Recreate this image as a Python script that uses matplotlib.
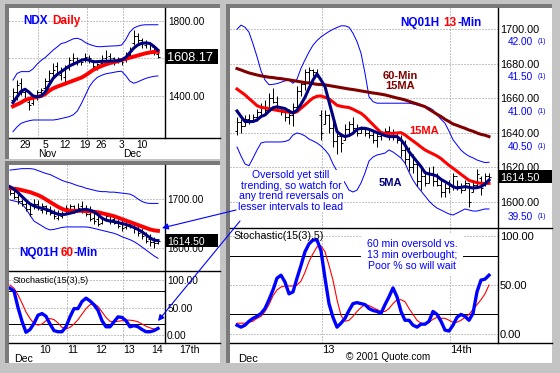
import matplotlib
matplotlib.use("Agg")
import matplotlib.pyplot as plt
import numpy as np
from matplotlib.lines import Line2D
from matplotlib.patches import Rectangle, FancyArrowPatch
from matplotlib.ticker import FormatStrFormatter
from matplotlib.transforms import blended_transform_factory

plt.rcParams['font.family'] = ['Liberation Sans', 'DejaVu Sans']

# ---------------- NDX daily, Oct 24 .. Dec 14 ----------------
daily_open = [1380, 1420, 1470, 1420, 1370, 1360, 1395, 1420, 1440, 1480, 1520, 1560, 1510,
              1500, 1550, 1590, 1600, 1595, 1590, 1610, 1585, 1550, 1575, 1600, 1615, 1600,
              1585, 1595, 1590, 1620, 1680, 1720, 1700, 1670, 1690, 1660, 1625]
daily_high = [1441, 1485, 1494, 1441, 1379, 1405, 1432, 1441, 1494, 1539, 1574, 1583, 1556,
              1565, 1610, 1628, 1610, 1601, 1628, 1619, 1592, 1574, 1619, 1645, 1628, 1610,
              1610, 1601, 1636, 1663, 1752, 1734, 1708, 1699, 1690, 1663, 1636]
daily_low = [1361, 1379, 1405, 1379, 1325, 1352, 1379, 1396, 1432, 1468, 1494, 1512, 1485,
             1468, 1539, 1565, 1565, 1565, 1583, 1574, 1539, 1539, 1565, 1583, 1574, 1565,
             1574, 1565, 1583, 1610, 1672, 1680, 1654, 1654, 1645, 1619, 1601]
daily_close = [1420, 1460, 1420, 1390, 1350, 1390, 1420, 1430, 1480, 1520, 1540, 1520, 1540,
               1550, 1590, 1600, 1590, 1580, 1610, 1600, 1560, 1570, 1600, 1610, 1600, 1590,
               1600, 1580, 1620, 1650, 1720, 1700, 1680, 1690, 1670, 1640, 1608.17]
daily_ma5 = [1365, 1395, 1425, 1436, 1420, 1400, 1396, 1400, 1420, 1460, 1495, 1515, 1530,
             1545, 1560, 1570, 1580, 1590, 1596, 1590, 1583, 1583, 1585, 1585, 1586, 1587,
             1588, 1592, 1605, 1630, 1655, 1672, 1681, 1683, 1680, 1665, 1645]
daily_ma20 = [1345, 1355, 1365, 1378, 1385, 1390, 1395, 1400, 1410, 1428, 1441, 1450, 1458,
              1466, 1474, 1482, 1490, 1498, 1510, 1525, 1540, 1550, 1560, 1568, 1575, 1580,
              1585, 1592, 1598, 1604, 1610, 1616, 1622, 1628, 1632, 1635, 1636]
daily_bb_up = [1485, 1520, 1530, 1530, 1530, 1545, 1570, 1590, 1605, 1625, 1645, 1662, 1680,
               1685, 1695, 1705, 1708, 1700, 1685, 1675, 1668, 1663, 1663, 1665, 1666, 1667,
               1668, 1672, 1700, 1740, 1762, 1772, 1778, 1780, 1780, 1780, 1780]
daily_bb_low = [1210, 1235, 1254, 1262, 1268, 1272, 1272, 1272, 1272, 1272, 1272, 1275, 1280,
                1285, 1290, 1300, 1320, 1360, 1405, 1450, 1480, 1500, 1510, 1518, 1522, 1526,
                1530, 1532, 1510, 1480, 1468, 1475, 1485, 1494, 1500, 1505, 1507]
daily_tick_pos = [3, 8, 13, 18, 22, 27, 32]
daily_tick_labels = ['29', '5', '12', '19', '26', '3', '10']
daily_month_pos = [8.6, 29.7]
daily_month_labels = ['Nov', 'Dec']
daily_grid_x = [6.3, 18.3, 27.4]
daily_yticks = [1400, 1800]
daily_grid_y = [1400, 1600, 1800]

# ---------------- NQ01H 60-min ----------------
hour_open = [1720, 1712, 1705, 1695, 1690, 1680, 1685, 1690, 1678, 1685, 1675, 1672, 1662,
             1666, 1672, 1680, 1685, 1680, 1685, 1680, 1670, 1662, 1660, 1652, 1658, 1665,
             1660, 1655, 1648, 1642, 1650, 1645, 1640, 1632, 1628, 1618, 1612, 1610]
hour_high = [1725, 1718, 1710, 1700, 1695, 1690, 1700, 1698, 1692, 1688, 1685, 1680, 1678,
             1676, 1688, 1690, 1688, 1692, 1695, 1688, 1685, 1672, 1668, 1664, 1672, 1668,
             1665, 1660, 1658, 1655, 1656, 1650, 1645, 1640, 1632, 1628, 1622, 1618]
hour_low = [1708, 1700, 1690, 1685, 1675, 1665, 1680, 1678, 1672, 1670, 1668, 1660, 1658,
            1662, 1670, 1675, 1672, 1676, 1672, 1665, 1655, 1650, 1645, 1648, 1655, 1650,
            1648, 1640, 1635, 1638, 1640, 1630, 1625, 1618, 1610, 1605, 1600, 1608]
hour_close = [1712, 1705, 1695, 1690, 1680, 1670, 1690, 1684, 1686, 1675, 1672, 1665, 1668,
              1670, 1682, 1685, 1680, 1682, 1678, 1670, 1660, 1655, 1650, 1660, 1665, 1658,
              1652, 1645, 1640, 1650, 1645, 1638, 1630, 1625, 1615, 1612, 1610, 1614.50]
hour_ma5 = [1725, 1720, 1713, 1705, 1697, 1690, 1686, 1683, 1681, 1679, 1676, 1672, 1669,
            1668, 1669, 1671, 1673, 1676, 1678, 1679, 1677, 1674, 1668, 1661, 1657, 1655,
            1654, 1652, 1650, 1648, 1645, 1642, 1638, 1633, 1627, 1621, 1616, 1615]
hour_ma15 = [1722, 1721, 1720, 1718, 1716, 1714, 1711, 1708, 1704, 1699, 1694, 1689, 1684,
             1680, 1677, 1676, 1676, 1676, 1676, 1675, 1675, 1674, 1673, 1671, 1669, 1667,
             1665, 1662, 1659, 1656, 1653, 1650, 1647, 1644, 1641, 1638, 1636, 1635]
hour_bb_up = [1759, 1760, 1761, 1762, 1762, 1762, 1761, 1758, 1755, 1752, 1750, 1746, 1742,
              1738, 1735, 1733, 1730, 1727, 1725, 1722, 1720, 1718, 1716, 1715, 1715, 1714,
              1714, 1713, 1712, 1711, 1710, 1706, 1700, 1695, 1692, 1691, 1691, 1691]
hour_bb_low = [1698, 1696, 1694, 1690, 1680, 1667, 1655, 1650, 1645, 1640, 1637, 1638, 1640,
               1642, 1643, 1643, 1643, 1643, 1643, 1643, 1642, 1640, 1638, 1636, 1634, 1632,
               1630, 1627, 1623, 1620, 1617, 1613, 1608, 1602, 1596, 1590, 1584, 1579]
hour_k = [85, 80, 50, 25, 5, 10, 21, 36, 39, 34, 20, 8, 6, 6, 15, 33, 48, 48, 61, 67, 62, 55,
          45, 26, 15, 15, 24, 33, 32, 26, 15, 17, 15, 10, 6, 6, 8, 12]
hour_d = [91, 85, 73, 58, 42, 30, 21, 18, 20, 26, 30, 28, 22, 14, 11, 14, 20, 28, 38, 48, 55,
          57, 52, 42, 32, 25, 24, 25, 26, 27, 27, 26, 24, 20, 16, 13, 11, 10]
hour_day_pos = [7.25, 14.25, 21.25, 28.25, 35.25, 42.25]
hour_day_labels = ['10', '11', '12', '13', '14', '17th']
hour_grid_x = [14.25, 28.25]
hour_yticks = [1600, 1700]

# ---------------- NQ01H 13-min ----------------
m13_open = [1641, 1646, 1644, 1648, 1647, 1649, 1652, 1655, 1653, 1660, 1658, 1655, 1652,
            1649, 1650, 1655, 1664, 1668, 1675, 1676, 1675, 1650, 1645, 1650, 1643, 1635,
            1638, 1636, 1642, 1645, 1643, 1640, 1642, 1640, 1639, 1636, 1638, 1640, 1641,
            1638, 1640, 1636, 1630, 1625, 1620, 1622, 1612, 1615, 1611, 1617, 1612, 1610,
            1606, 1608, 1610, 1615, 1609, 1607, 1611, 1606, 1610, 1614, 1610, 1615]
m13_high = [1649, 1648, 1650, 1651, 1651, 1654, 1657, 1659, 1663, 1666, 1661, 1655, 1653,
            1654, 1657, 1667, 1670, 1677, 1678, 1677, 1677, 1653, 1653, 1651, 1647, 1642,
            1640, 1645, 1647, 1649, 1645, 1644, 1643, 1642, 1641, 1640, 1641, 1643, 1644,
            1642, 1640, 1639, 1636, 1632, 1628, 1624, 1620, 1618, 1620, 1621, 1617, 1613,
            1611, 1613, 1617, 1613, 1611, 1613, 1611, 1613, 1619, 1615, 1617, 1617]
m13_low = [1639, 1640, 1644, 1645, 1646, 1647, 1650, 1651, 1653, 1657, 1653, 1650, 1647,
           1645, 1644, 1655, 1661, 1665, 1669, 1673, 1672, 1636, 1645, 1640, 1632, 1628,
           1629, 1636, 1638, 1641, 1638, 1640, 1638, 1637, 1634, 1632, 1636, 1638, 1636,
           1636, 1634, 1626, 1622, 1618, 1617, 1609, 1607, 1609, 1611, 1609, 1609, 1603,
           1603, 1605, 1607, 1607, 1605, 1607, 1597, 1606, 1609, 1604, 1609, 1612]
m13_close = [1646, 1644, 1648, 1647, 1649, 1652, 1655, 1653, 1660, 1658, 1655, 1652, 1649,
             1650, 1655, 1664, 1668, 1675, 1676, 1675, 1673, 1640, 1650, 1643, 1635, 1638,
             1634, 1642, 1645, 1643, 1640, 1642, 1640, 1639, 1636, 1638, 1640, 1641, 1638,
             1640, 1636, 1630, 1625, 1620, 1622, 1612, 1615, 1611, 1617, 1612, 1610, 1606,
             1608, 1610, 1615, 1609, 1607, 1611, 1600, 1610, 1616, 1608, 1615, 1614.50]
m13_ma5 = [1652.6, 1649.4, 1646.5, 1646.5, 1646.5, 1647.4, 1649.4, 1650.3, 1652.5, 1654.5,
           1655.0, 1654.5, 1654.0, 1652.5, 1651.5, 1653.0, 1656.5, 1660.5, 1665.7, 1670.5,
           1674.0, 1670.5, 1666.7, 1658.0, 1649.4, 1640.7, 1638.8, 1637.8, 1638.4, 1639.7,
           1642.0, 1642.6, 1642.6, 1642.0, 1641.1, 1640.1, 1639.3, 1638.4, 1637.8, 1637.8,
           1637.8, 1635.9, 1633.0, 1629.1, 1626.2, 1623.3, 1620.5, 1617.0, 1616.2, 1615.8,
           1615.0, 1613.1, 1611.8, 1610.4, 1608.9, 1608.1, 1608.5, 1608.9, 1608.5, 1608.1,
           1608.3, 1608.9, 1610.4, 1612.7]
m13_ma15 = [1665.3, 1663.6, 1661.9, 1659.8, 1657.8, 1655.7, 1654.7, 1654.4, 1654.0, 1653.4,
            1653.0, 1652.6, 1652.2, 1651.9, 1651.5, 1652.2, 1654.2, 1656.1, 1658.2, 1660.1,
            1661.1, 1661.3, 1660.5, 1659.6, 1657.8, 1655.9, 1655.3, 1654.9, 1654.6, 1653.6,
            1652.4, 1651.3, 1649.4, 1647.0, 1644.7, 1642.4, 1640.1, 1639.7, 1639.7, 1639.7,
            1639.9, 1640.1, 1638.8, 1637.0, 1635.3, 1633.6, 1631.8, 1630.1, 1628.9, 1627.8,
            1626.6, 1625.1, 1623.1, 1621.2, 1619.5, 1617.8, 1616.0, 1614.3, 1612.5, 1611.8,
            1611.2, 1610.8, 1610.8, 1610.8]
m60_ma15 = [1677.1, 1676.3, 1675.4, 1674.6, 1674.0, 1673.4, 1672.9, 1672.5, 1672.1, 1671.9,
            1671.5, 1671.3, 1670.9, 1670.6, 1670.2, 1669.8, 1669.4, 1669.0, 1668.8, 1668.4,
            1668.0, 1667.9, 1667.7, 1667.3, 1666.9, 1666.5, 1666.1, 1665.7, 1665.3, 1665.0,
            1664.6, 1664.2, 1663.8, 1663.4, 1663.0, 1662.7, 1662.3, 1661.9, 1661.3, 1660.7,
            1660.1, 1659.6, 1659.0, 1658.2, 1657.4, 1656.7, 1655.9, 1655.1, 1653.6, 1652.2,
            1650.7, 1649.4, 1647.8, 1646.5, 1645.1, 1644.3, 1643.4, 1642.6, 1641.6, 1640.9,
            1639.9, 1639.1, 1638.6, 1637.8]
m13_bb_up = [1699.8, 1702.2, 1701.0, 1698.1, 1691.4, 1684.0, 1675.8, 1670.5, 1667.8, 1668.0,
             1668.4, 1669.2, 1670.0, 1670.4, 1668.6, 1671.0, 1677.3, 1682.1, 1686.7, 1690.6,
             1693.3, 1695.4, 1697.0, 1698.5, 1699.8, 1700.8, 1701.8, 1701.8, 1701.0, 1697.5,
             1692.7, 1686.0, 1674.4, 1660.9, 1658.0, 1657.1, 1657.1, 1657.1, 1657.1, 1657.1,
             1657.1, 1657.1, 1657.1, 1657.1, 1656.7, 1656.1, 1655.5, 1655.1, 1654.6, 1653.2,
             1650.3, 1647.8, 1645.5, 1641.0, 1636.0, 1633.0, 1630.0, 1628.0, 1626.5, 1625.5,
             1624.3, 1623.5, 1622.8, 1623.0]
m13_bb_low = [1631.8, 1626.6, 1622.0, 1621.0, 1625.4, 1630.0, 1634.1, 1634.7, 1634.7, 1634.7,
              1634.7, 1634.7, 1635.0, 1635.8, 1638.7, 1639.9, 1639.3, 1638.2, 1636.4, 1635.3,
              1634.1, 1632.4, 1630.1, 1627.2, 1622.0, 1617.9, 1614.5, 1611.0, 1606.9, 1605.8,
              1606.9, 1611.0, 1616.8, 1623.7, 1626.0, 1627.2, 1627.7, 1628.3, 1630.1, 1628.9,
              1627.2, 1625.4, 1622.5, 1617.3, 1612.7, 1609.2, 1606.4, 1603.5, 1600.6, 1598.3,
              1596.5, 1595.4, 1594.2, 1593.1, 1592.5, 1593.6, 1594.8, 1596.0, 1595.4, 1594.8,
              1594.8, 1595.4, 1596.0, 1596.0]
m13_k = [9, 7, 9, 13, 16, 18, 21, 26, 35, 45, 57, 60, 53, 41, 43, 57, 70, 84, 92, 96, 96, 85,
         57, 31, 17, 7, 11, 16, 24, 31, 32, 31, 30, 26, 24, 23, 21, 30, 38, 47, 38, 23, 14, 14,
         9, 7, 10, 10, 13, 23, 20, 13, 4, 3, 9, 17, 20, 18, 14, 21, 43, 55, 56, 60]
m13_d = [11, 11, 11, 12, 13, 16, 18, 23, 30, 39, 45, 48, 49, 49, 49, 50, 54, 63, 74, 82, 89,
         90, 84, 70, 55, 35, 19, 13, 14, 18, 23, 27, 30, 29, 27, 25, 23, 23, 26, 31, 35, 35,
         33, 26, 20, 14, 11, 10, 12, 15, 17, 16, 16, 14, 12, 12, 14, 17, 20, 25, 30, 35, 41, 50]
m13_day_pos = [21.25, 53.25]
m13_day_labels = ['13', '14th']
m13_yticks = [1600, 1620, 1640, 1660, 1680, 1700]
m13_sec_ticks = [39.5, 40.5, 41.0, 41.5, 42.0]

NAVY = '#000080'
RED = '#ff0000'
BLUE = '#0000ff'
MAROON = '#800000'
GRID = '#8c8c8c'
PX = 0.72  # one pixel in points at 100 dpi

W, H = 560, 373
fig = plt.figure(figsize=(W / 100, H / 100), dpi=100, facecolor='#c4c4c4')


def fx(x):
    return x / W


def fy(y):
    return 1 - y / H


def add_ax(x0, y0, x1, y1, xlim, ylim, labelsize, pad=1.5):
    ax = fig.add_axes([fx(x0), fy(y1), (x1 - x0) / W, (y1 - y0) / H])
    ax.set_facecolor('none')
    ax.set_xlim(*xlim)
    ax.set_ylim(*ylim)
    for s in ax.spines.values():
        s.set_visible(False)
    ax.set_xticks([])
    ax.yaxis.tick_right()
    ax.yaxis.set_major_formatter(FormatStrFormatter('%.2f'))
    ax.tick_params(axis='y', length=0, pad=pad, labelsize=labelsize)
    return ax


def fig_line(x0, y0, x1, y1, **kw):
    fig.add_artist(Line2D([fx(x0), fx(x1)], [fy(y0), fy(y1)], transform=fig.transFigure, **kw))


def draw_bars(ax, o, h, l, c, tick=0.45):
    x = np.arange(len(c))
    ax.vlines(x, l, h, color='black', lw=PX)
    ax.hlines(o, x - tick, x, color='black', lw=PX)
    ax.hlines(c, x, x + tick, color='black', lw=PX)


def dotted_grid(ax, ys=(), xs=()):
    for y in ys:
        ax.axhline(y, color=GRID, lw=PX, ls=(0, (1, 2)), zorder=0.5)
    for x in xs:
        ax.axvline(x, color=GRID, lw=PX, ls=(0, (1, 2)), zorder=0.5)


def price_box(ax, value, x0, x1, h, size):
    y = ax.transData.transform((0, value))[1]
    fig.add_artist(Rectangle((fx(x0), (y - h / 2) / H), (x1 - x0) / W, h / H,
                             transform=fig.transFigure, fc='black', ec='none', zorder=3))
    fig.text(fx(x0 + 1.5), y / H, f"{value:.2f}", color='white', fontsize=size,
             ha='left', va='center_baseline', zorder=4)


# panels with sunken borders
for (x0, y0, x1, y1) in [(9, 8, 220, 159), (9, 165, 220, 363), (230, 8, 552, 363)]:
    fig.add_artist(Rectangle((fx(x0 - 4), fy(y1)), (x1 - x0 + 4) / W, (y1 - y0 + 4) / H,
                             transform=fig.transFigure, fc='#7a7a7a', ec='none', zorder=-3))
    fig.add_artist(Rectangle((fx(x0), fy(y1)), (x1 - x0) / W, (y1 - y0) / H,
                             transform=fig.transFigure, fc='white', ec='none', zorder=-2))

# ---------- daily ----------
ax_d = add_ax(9, 8, 165, 138, (-0.99, 37.78), (1176, 1869.3), 7.2, pad=2)
ax_d.set_yticks(daily_yticks)
dotted_grid(ax_d, daily_grid_y, daily_grid_x)
xd = np.arange(len(daily_close))
ax_d.plot(xd, daily_bb_up, color=BLUE, lw=PX)
ax_d.plot(xd, daily_bb_low, color=BLUE, lw=PX)
draw_bars(ax_d, daily_open, daily_high, daily_low, daily_close)
ax_d.plot(xd, daily_ma20, color=RED, lw=2.8)
ax_d.plot(xd, daily_ma5, color=NAVY, lw=2.2)
td = blended_transform_factory(ax_d.transData, fig.transFigure)
for p, lab in zip(daily_tick_pos, daily_tick_labels):
    ax_d.text(p, fy(145), lab, transform=td, ha='center', va='center', fontsize=7.4)
for p, lab in zip(daily_month_pos, daily_month_labels):
    ax_d.text(p, fy(154), lab, transform=td, ha='center', va='center', fontsize=7.4)
fig.text(fx(23), fy(21), 'NDX', color=BLUE, weight='bold', fontsize=8.5, va='center')
fig.text(fx(52), fy(21), 'Daily', color=RED, weight='bold', fontsize=8.5, va='center')

# ---------- 60-min ----------
hx = (-0.25, 38.75)
ax_h = add_ax(9, 165, 165, 271, hx, (1553.1, 1769.4), 7.2)
ax_h.set_yticks(hour_yticks)
dotted_grid(ax_h, hour_yticks, hour_grid_x)
xh = np.arange(len(hour_close))
ax_h.plot(xh, hour_bb_up, color=BLUE, lw=PX)
ax_h.plot(xh, hour_bb_low, color=BLUE, lw=PX)
draw_bars(ax_h, hour_open, hour_high, hour_low, hour_close)
ax_h.plot(xh, hour_ma15, color=RED, lw=2.8)
ax_h.plot(xh, hour_ma5, color=NAVY, lw=2.2)
fig.text(fx(19), fy(253), 'NQ01H', color=BLUE, weight='bold', fontsize=8.5, va='center')
fig.text(fx(61), fy(253), '60', color=RED, weight='bold', fontsize=8.5, va='center')
fig.text(fx(74), fy(253), '-Min', color=BLUE, weight='bold', fontsize=8.5, va='center')

ax_hs = add_ax(9, 271, 165, 343, hx, (-14.5, 116.4), 7.3)
ax_hs.set_yticks([0, 50, 100])
dotted_grid(ax_hs, [0, 50, 100], hour_grid_x)
ax_hs.axhline(80, color='black', lw=PX)
ax_hs.axhline(20, color='black', lw=PX)
ax_hs.plot(xh, hour_d, color=RED, lw=0.8)
ax_hs.plot(xh, hour_k, color=BLUE, lw=2.4)
ax_hs.text(0.02, 0.87, 'Stochastic(15(3),5)', transform=ax_hs.transAxes, fontsize=6.5, va='center')
th = blended_transform_factory(ax_hs.transData, fig.transFigure)
for p, lab in zip(hour_day_pos, hour_day_labels):
    ax_hs.text(p, fy(350), lab, transform=th, ha='left', va='center', fontsize=7.6)
ax_hs.text(1.0, fy(359), 'Dec', transform=th, ha='left', va='center', fontsize=7.6)

# ---------- 13-min ----------
mx = (-1.75, 65.25)
ax_m = add_ax(230, 8, 498, 228, mx, (1585.0, 1712.1), 7.8)
ax_m.set_yticks(m13_yticks)
dotted_grid(ax_m, m13_yticks, m13_day_pos)
xm = np.arange(len(m13_close))
ax_m.plot(xm, m13_bb_up, color=BLUE, lw=PX)
ax_m.plot(xm, m13_bb_low, color=BLUE, lw=PX)
draw_bars(ax_m, m13_open, m13_high, m13_low, m13_close)
ax_m.plot(xm, m60_ma15, color=MAROON, lw=2.2)
ax_m.plot(xm, m13_ma15, color=RED, lw=2.2)
ax_m.plot(xm, m13_ma5, color=NAVY, lw=2.2)

ax_m2 = ax_m.twinx()
ax_m.yaxis.tick_right()  # twinx moves the host ticks to the left
ax_m2.set_facecolor('none')
for s in ax_m2.spines.values():
    s.set_visible(False)
ax_m2.set_ylim(39.328, 42.466)
ax_m2.set_yticks(m13_sec_ticks)
ax_m2.yaxis.set_major_formatter(FormatStrFormatter('%.2f'))
ax_m2.tick_params(axis='y', length=0, pad=7.2, labelsize=7.2, labelcolor=BLUE)
for v in m13_sec_ticks:
    ax_m2.text(1.149, v, '(1)', transform=ax_m2.get_yaxis_transform(), color=BLUE,
               fontsize=5, va='center_baseline', ha='left')

fig.text(fx(400), fy(23), 'NQ01H', color=BLUE, weight='bold', fontsize=8.5, va='center')
fig.text(fx(443), fy(23), '13', color=RED, weight='bold', fontsize=8.5, va='center')
fig.text(fx(457), fy(23), '-Min', color=BLUE, weight='bold', fontsize=8.5, va='center')
fig.text(fx(400), fy(81), '60-Min\n15MA', color=MAROON, weight='bold', fontsize=8,
         ha='center', va='center', linespacing=1.1)
fig.text(fx(424), fy(131), '15MA', color=RED, weight='bold', fontsize=8, ha='center', va='center')
fig.text(fx(390), fy(183), '5MA', color=NAVY, weight='bold', fontsize=8, ha='center', va='center')
ax_m.text(fx(291), fy(191), 'Oversold yet still\ntrending, so watch for\nany trend reversals on\nlesser intervals to lead',
          transform=fig.transFigure, color=BLUE, fontsize=7.6, ha='center', va='center',
          linespacing=1.05, zorder=5, bbox=dict(fc='white', ec='none', pad=0.5))

ax_ms = add_ax(230, 228, 498, 343, mx, (-9.2, 108.2), 8)
ax_ms.set_yticks([0, 50, 100])
dotted_grid(ax_ms, [0, 50, 100], m13_day_pos)
ax_ms.axhline(80, color='black', lw=PX)
ax_ms.axhline(20, color='black', lw=PX)
ax_ms.plot(xm, m13_d, color=RED, lw=0.8)
ax_ms.plot(xm, m13_k, color=BLUE, lw=2.4)
ax_ms.text(fx(233), fy(236), 'Stochastic(15(3),5)', transform=fig.transFigure, fontsize=7.7, va='center')
ax_ms.text(fx(412), fy(255), '60 min oversold vs.\n13 min overbought;\nPoor % so will wait',
           transform=fig.transFigure, color=BLUE, fontsize=7.6, ha='center', va='center',
           linespacing=1.1, zorder=5, bbox=dict(fc='white', ec='none', pad=4))
tm = blended_transform_factory(ax_ms.transData, fig.transFigure)
for p, lab in zip(m13_day_pos, m13_day_labels):
    ax_ms.text(p, fy(350), lab, transform=tm, ha='left', va='center', fontsize=8)
ax_ms.text(0.25, fy(359), 'Dec', transform=tm, ha='left', va='center', fontsize=8)
fig.text(fx(388), fy(357), '\u00a9 2001 Quote.com', ha='center', va='center', fontsize=7.2)

# axis frame lines
for seg in [(165, 8, 165, 138), (9, 138, 220, 138), (165, 165, 165, 343), (9, 271, 220, 271),
            (9, 343, 220, 343), (498, 8, 498, 343), (230, 228, 552, 228), (230, 343, 552, 343)]:
    fig_line(*seg, color='black', lw=1.0, zorder=2)

# last price boxes
price_box(ax_d, daily_close[-1], 166, 218, 15, 9.2)
price_box(ax_h, hour_close[-1], 166, 218, 13, 7.5)
price_box(ax_m, m13_close[-1], 499, 552, 13, 7.8)

# annotation arrows
for start, end in [((236, 210), (162, 228)), ((240, 221), (158, 321))]:
    fig.add_artist(FancyArrowPatch((fx(start[0]), fy(start[1])), (fx(end[0]), fy(end[1])),
                                   transform=fig.transFigure, arrowstyle='-|>', mutation_scale=9,
                                   color=BLUE, lw=0.8, shrinkA=0, shrinkB=0, zorder=6))

fig.savefig('out.png', dpi=100, facecolor=fig.get_facecolor())
